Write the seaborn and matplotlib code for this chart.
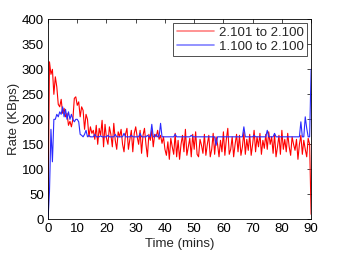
import matplotlib
matplotlib.use("Agg")
import matplotlib.pyplot as plt
import numpy as np
import seaborn as sns

# both series sampled every half minute from 0 to 90 mins
STEP = 0.5
red_rate = [
    20, 315, 290, 300, 250, 285, 265, 230, 225, 240,
    212, 222, 205, 212, 188, 196, 185, 200, 242, 245,
    228, 235, 205, 225, 218, 180, 210, 200, 165, 185,
    172, 178, 160, 188, 150, 182, 168, 198, 145, 190,
    162, 150, 185, 170, 145, 192, 158, 140, 175, 165,
    180, 150, 135, 170, 182, 140, 160, 178, 135, 172,
    185, 165, 150, 178, 132, 168, 182, 150, 125, 170,
    158, 178, 145, 170, 165, 178, 160, 168, 152, 165,
    140, 128, 155, 120, 162, 145, 130, 172, 125, 158,
    120, 150, 168, 135, 180, 128, 145, 162, 125, 170,
    140, 175, 130, 125, 160, 148, 132, 170, 128, 150,
    168, 125, 140, 172, 130, 165, 150, 125, 158, 135,
    175, 128, 160, 182, 130, 140, 165, 125, 150, 170,
    135, 168, 128, 145, 175, 130, 160, 138, 170, 128,
    150, 178, 135, 165, 145, 172, 130, 158, 142, 170,
    140, 175, 150, 165, 132, 170, 125, 145, 168, 130,
    178, 140, 160, 135, 172, 145, 128, 165, 150, 138,
    160, 120, 150, 168, 130, 158, 140, 125, 162, 150,
    10,
]
blue_rate = [
    0, 55, 180, 115, 200, 200, 210, 205, 215, 210,
    225, 205, 220, 200, 215, 200, 210, 200, 195, 200,
    200, 195, 170, 168, 165, 170, 178, 165, 168, 165,
    165, 165, 170, 165, 165, 165, 167, 165, 165, 165,
    165, 168, 165, 165, 165, 165, 170, 165, 165, 165,
    165, 165, 172, 165, 165, 165, 165, 168, 165, 165,
    165, 165, 165, 172, 165, 165, 165, 165, 168, 165,
    165, 190, 165, 165, 170, 165, 165, 192, 165, 165,
    165, 165, 165, 165, 165, 165, 165, 170, 165, 165,
    165, 165, 165, 165, 165, 165, 165, 165, 168, 165,
    165, 165, 165, 165, 165, 165, 165, 165, 165, 165,
    165, 165, 165, 165, 165, 148, 165, 165, 165, 165,
    165, 165, 165, 165, 165, 165, 165, 165, 165, 165,
    165, 165, 165, 165, 185, 165, 165, 165, 165, 165,
    165, 168, 165, 165, 165, 165, 165, 165, 165, 165,
    178, 165, 165, 165, 165, 172, 165, 165, 165, 165,
    165, 165, 165, 165, 165, 165, 165, 165, 165, 165,
    165, 165, 165, 195, 165, 165, 205, 182, 165, 165,
    300,
]
time_mins = np.arange(len(red_rate)) * STEP

red_label = "2.101 to 2.100"
blue_label = "1.100 to 2.100"
x_ticks = list(range(0, 91, 10))
y_ticks = list(range(0, 401, 50))

sns.set_style("white")
plt.rcParams["font.family"] = ["Liberation Sans", "DejaVu Sans"]

fig = plt.figure(figsize=(3.43, 2.58), dpi=100)
ax = fig.add_axes([0.140, 0.150, 0.767, 0.775])

sns.lineplot(x=time_mins, y=red_rate, color="#ff0000", lw=0.8, ax=ax, label=red_label)
sns.lineplot(x=time_mins, y=blue_rate, color="#2a2aff", lw=0.8, ax=ax, label=blue_label)

ax.set_xlim(0, 90)
ax.set_ylim(0, 400)
ax.set_xticks(x_ticks)
ax.set_yticks(y_ticks)
ax.tick_params(direction="in", top=True, right=True, length=3, width=0.5,
               labelsize=9.5, pad=3, colors="black")
for s in ax.spines.values():
    s.set_visible(True)
    s.set_color("black")
    s.set_linewidth(0.6)
ax.set_xlabel("Time (mins)", fontsize=9.5, labelpad=1.5)
ax.set_ylabel("Rate (KBps)", fontsize=9.5, labelpad=1)

leg = ax.legend(loc="upper right", fontsize=9.5, frameon=True, fancybox=False,
                borderaxespad=0.3, handlelength=2.8, borderpad=0.25,
                labelspacing=0.15, handletextpad=0.4)
leg.get_frame().set_edgecolor("black")
leg.get_frame().set_linewidth(0.6)
for line, col in zip(leg.get_lines(), ["#ff8080", "#8080ff"]):
    line.set_color(col)
    line.set_linewidth(1.2)

fig.savefig("out.png", dpi=100)
